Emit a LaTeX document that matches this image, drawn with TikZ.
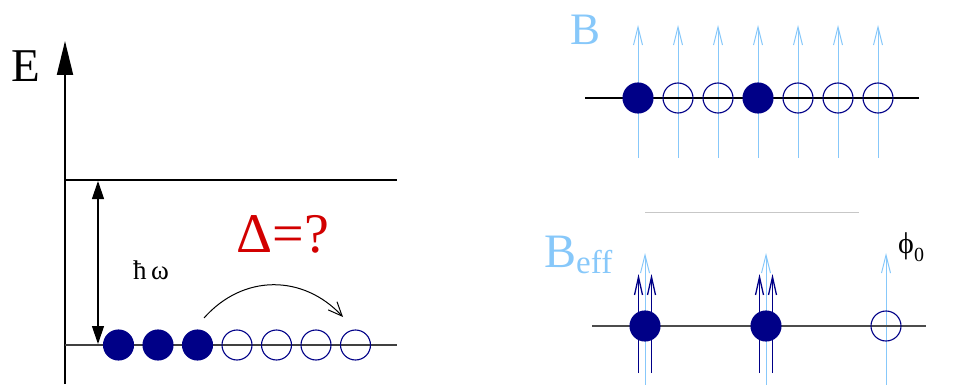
\documentclass[tikz,border=0pt]{standalone}
\usepackage{fontspec}
\setmainfont{Liberation Serif}
\usetikzlibrary{arrows.meta}
\definecolor{navy}{RGB}{0,0,135}
\definecolor{skyb}{RGB}{135,200,250}
\definecolor{dred}{RGB}{210,0,0}
\begin{document}
\begin{tikzpicture}[x=1pt,y=-1pt,
  full/.style={circle,draw=navy,fill=navy,minimum size=30pt,inner sep=0pt,line width=1.1pt},
  empty/.style={circle,draw=navy,minimum size=30pt,inner sep=0pt,line width=1.1pt},
  barb/.style={-{Straight Barb[length=18pt,width=9pt]}},
  fieldarr/.style={barb,draw=skyb,line width=1pt},
  darkarr/.style={-{Straight Barb[length=18pt,width=8pt]},draw=navy,line width=1.3pt}]
\useasboundingbox (0,0) rectangle (956,385);
% ---------- left panel ----------
\coordinate (axb) at (65,384);
\coordinate (axt) at (65,41);
\draw[line width=2pt,-{Triangle[length=34pt,width=16pt]}] (axb) -- (axt);
\node[font=\fontsize{47}{47}\selectfont] (E) at (26,66) {E};
\coordinate (tl) at (65,180);
\coordinate (tr) at (397,180);
\draw[line width=2pt] (tl) -- (tr);
\coordinate (bl) at (65,345);
\coordinate (br) at (397,345);
\draw[line width=1.5pt,black!75] (bl) -- (br);
\coordinate (dat) at (98,181);
\coordinate (dab) at (98,344);
\draw[line width=1.2pt,{Triangle[length=18pt,width=12pt]}-{Triangle[length=18pt,width=12pt]}] (dat) -- (dab);
\node[font=\fontsize{27}{27}\selectfont,anchor=base] (hw) at (151,279) {ħ\,ω};
\node[full] (l1) at (118.5,345) {};
\node[full] (l2) at (158,345) {};
\node[full] (l3) at (197.5,345) {};
\node[empty] (l4) at (237,345) {};
\node[empty] (l5) at (276.5,345) {};
\node[empty] (l6) at (316,345) {};
\node[empty] (l7) at (355.5,345) {};
\coordinate (arcs) at (204,318);
\coordinate (arce) at (343,317);
\draw[line width=1pt,-{Straight Barb[length=14pt,width=12pt]}] (arcs) .. controls (243,274) and (303,274) .. (arce);
\node[text=dred,font=\fontsize{56}{56}\selectfont,anchor=base] (delta) at (283,252) {Δ=?};
% ---------- right top ----------
\node[text=skyb,font=\fontsize{45}{45}\selectfont,anchor=base] (B) at (586,45) {B};
\foreach \i/\x in {1/638,2/678,3/718,4/758,5/798,6/838,7/878}{
  \coordinate (fb\i) at (\x,158);
  \coordinate (ft\i) at (\x,25);
  \draw[fieldarr] (fb\i) -- (ft\i);
}
\coordinate (rtl) at (585,98);
\coordinate (rtr) at (919,98);
\draw[line width=1.2pt] (rtl) -- (rtr);
\node[full] (r1) at (638,98) {};
\node[empty] (r2) at (678,98) {};
\node[empty] (r3) at (718,98) {};
\node[full] (r4) at (758,98) {};
\node[empty] (r5) at (798,98) {};
\node[empty] (r6) at (838,98) {};
\node[empty] (r7) at (878,98) {};
% separator
\coordinate (sl) at (645,212);
\coordinate (sr) at (859,212);
\draw[line width=1pt,black!22] (sl) -- (sr);
% ---------- right bottom ----------
\node[text=skyb,font=\fontsize{48}{48}\selectfont,anchor=base west,inner sep=0pt] (Beff) at (544,267) {B\raisebox{-6pt}{\fontsize{33}{33}\selectfont eff}};
\node[font=\fontsize{30}{30}\selectfont,anchor=base west,inner sep=0pt] (phi) at (898,253) {ϕ\raisebox{-8pt}{\fontsize{20}{20}\selectfont 0}};
\foreach \i/\x in {1/645,2/766,3/886}{
  \coordinate (gb\i) at (\x,386);
  \coordinate (gt\i) at (\x,253);
  \draw[fieldarr] (gb\i) -- (gt\i);
}
\foreach \i/\x in {1/645,2/766}{
  \coordinate (dlb\i) at (\x-6.5,373);
  \coordinate (dlt\i) at (\x-6.5,274);
  \coordinate (drb\i) at (\x+6.5,373);
  \coordinate (drt\i) at (\x+6.5,274);
  \draw[darkarr] (dlb\i) -- (dlt\i);
  \draw[darkarr] (drb\i) -- (drt\i);
}
\coordinate (rbl) at (592,326);
\coordinate (rbr) at (926,326);
\draw[line width=1.4pt,black!70] (rbl) -- (rbr);
\node[full] (s1) at (645,326) {};
\node[full] (s2) at (766,326) {};
\node[empty] (s3) at (886,326) {};
\end{tikzpicture}
\end{document}
